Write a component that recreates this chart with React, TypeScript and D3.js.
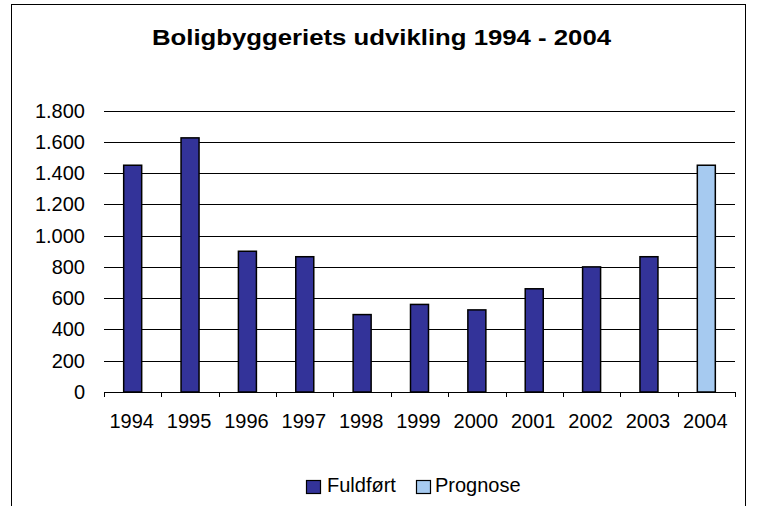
import React from "react";
import * as d3 from "d3";

const years = ["1994","1995","1996","1997","1998","1999","2000","2001","2002","2003","2004"];
const fuldfort = [1450,1625,900,865,495,560,525,660,800,865,null];
const prognose = [null,null,null,null,null,null,null,null,null,null,1450];
const yTicks = [0,200,400,600,800,1000,1200,1400,1600,1800];
const title = "Boligbyggeriets udvikling 1994 - 2004";
const seriesNames = ["Fuldført","Prognose"];
const colors = ["#333399","#A6CAF0"];

const fmt = (v: number) => d3.format(",")(v).replace(/,/g, ".");

export default function App() {
  const W = 757, H = 506;
  const x = d3.scaleBand<string>().domain(years).range([104, 735]);
  const y = d3.scaleLinear().domain([0, 1800]).range([392, 110.5]);
  const bw = 18;
  const font = "'Liberation Sans', Arial, sans-serif";
  return (
    <svg width={W} height={H} style={{ position: "absolute", left: 0, top: 0 }} fontFamily={font}>
      <rect x={0} y={0} width={W} height={H} fill="#fff" />
      <rect x={11.5} y={4.5} width={734} height={H + 10} fill="none" stroke="#000" strokeWidth={1} />
      <text x={152} y={45} fontSize={22} fontWeight="bold" textLength={459} lengthAdjust="spacingAndGlyphs">{title}</text>
      {yTicks.filter(t => t > 0).map(t => (
        <line key={t} x1={104} x2={735} y1={Math.round(y(t)) + 0.5} y2={Math.round(y(t)) + 0.5} stroke="#000" strokeWidth={1} />
      ))}
      {yTicks.map(t => (
        <text key={t} x={85} y={y(t) + 7} textAnchor="end" fontSize={20}>{fmt(t)}</text>
      ))}
      {fuldfort.map((v, i) => v == null ? null : (
        <rect key={"f" + i} x={x(years[i])! + x.bandwidth() / 2 - bw / 2} y={y(v)} width={bw} height={y(0) - y(v)} fill={colors[0]} stroke="#000" strokeWidth={1.5} />
      ))}
      {prognose.map((v, i) => v == null ? null : (
        <rect key={"p" + i} x={x(years[i])! + x.bandwidth() / 2 - bw / 2} y={y(v)} width={bw} height={y(0) - y(v)} fill={colors[1]} stroke="#000" strokeWidth={1.5} />
      ))}
      <line x1={104} x2={735} y1={392.5} y2={392.5} stroke="#000" strokeWidth={1} />
      {years.concat(["end"]).map((yr, i) => {
        const xx = Math.round(104 + i * x.bandwidth()) + 0.5;
        return <line key={"t" + i} x1={xx} x2={xx} y1={392} y2={397} stroke="#000" strokeWidth={1} />;
      })}
      {years.map(yr => (
        <text key={yr} x={x(yr)! + x.bandwidth() / 2 - 1} y={428} textAnchor="middle" fontSize={20}>{yr}</text>
      ))}
      <g>
        <rect x={306.5} y={480.5} width={14} height={13} fill={colors[0]} stroke="#000" strokeWidth={1.2} />
        <text x={327} y={492} fontSize={20}>{seriesNames[0]}</text>
        <rect x={416.5} y={480.5} width={14} height={13} fill={colors[1]} stroke="#000" strokeWidth={1.2} />
        <text x={435} y={492} fontSize={20}>{seriesNames[1]}</text>
      </g>
    </svg>
  );
}
